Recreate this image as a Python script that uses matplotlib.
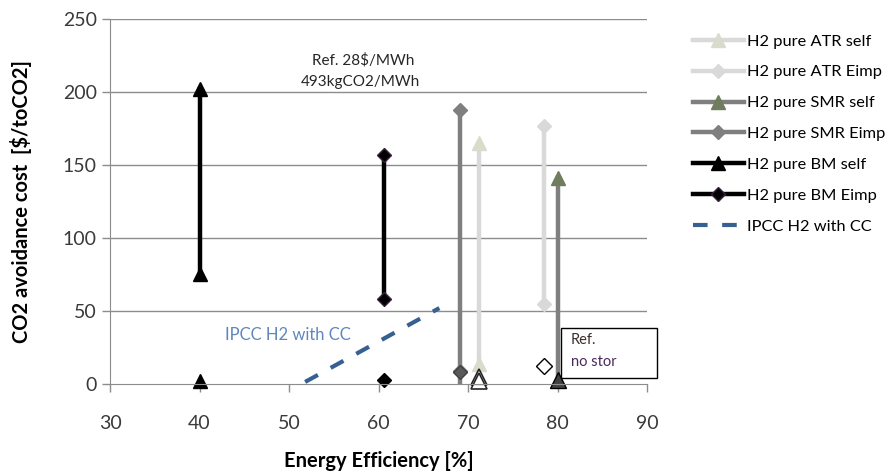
import matplotlib
matplotlib.use("Agg")
import matplotlib.pyplot as plt

plt.rcParams["font.family"] = ["Lato", "DejaVu Sans"]

# main ranges per technology: (efficiency %, [high, low] cost)
atr_self_x = 71.2
atr_self_y = [165, 14]
atr_eimp_x = 78.5
atr_eimp_y = [177, 55]
smr_self_x = 80.0
smr_self_y = [141, 3]
smr_eimp_x = 69.1
smr_eimp_y = [188, 9, 0]
bm_self_x = 40.0
bm_self_y = [202, 75]
bm_eimp_x = 60.6
bm_eimp_y = [157, 58]

# IPCC reference line
ipcc_x = [51.8, 66.8]
ipcc_y = [1.4, 52]

# "Ref. no stor" points
ref_bm_self = (40.0, 2)
ref_bm_eimp = (60.6, 2.5)
ref_smr_eimp = (69.1, 8)
ref_atr_self = (71.2, [5, 2])
ref_atr_eimp = (78.5, 12)
ref_smr_self = (80.0, 3)

x_ticks = [30, 40, 50, 60, 70, 80, 90]
y_ticks = [0, 50, 100, 150, 200, 250]

fig = plt.figure(figsize=(8.88, 4.76), dpi=100)
ax = fig.add_axes([0.1239, 0.1933, 0.6047, 0.7668])

for y in y_ticks[1:]:
    ax.axhline(y, color="#8c8c8c", lw=1.0, zorder=0)

lw = 3.2
ax.plot([atr_self_x] * len(atr_self_y), atr_self_y, color="#d9d9d9", lw=lw,
        marker="^", ms=10, mfc="#d7dccb", mec="#d7dccb", label="H2 pure ATR self")
ax.plot([atr_eimp_x] * len(atr_eimp_y), atr_eimp_y, color="#d9d9d9", lw=lw,
        marker="D", ms=7, mfc="#d9d9d9", mec="#d9d9d9", label="H2 pure ATR Eimp")
ax.plot([smr_self_x] * len(smr_self_y), smr_self_y, color="#7f7f7f", lw=lw,
        marker="^", ms=10, mfc="#6f7d5c", mec="#6f7d5c", markevery=[0],
        label="H2 pure SMR self")
ax.plot([smr_eimp_x] * len(smr_eimp_y), smr_eimp_y, color="#7f7f7f", lw=lw,
        marker="D", ms=7, mfc="#7f7f7f", mec="#7f7f7f", markevery=[0, 1],
        label="H2 pure SMR Eimp")
ax.plot([bm_self_x] * len(bm_self_y), bm_self_y, color="black", lw=lw,
        marker="^", ms=10, mfc="black", mec="black", label="H2 pure BM self")
ax.plot([bm_eimp_x] * len(bm_eimp_y), bm_eimp_y, color="black", lw=lw,
        marker="D", ms=7, mfc="black", mec="#3a1f40", label="H2 pure BM Eimp")
ax.plot(ipcc_x, ipcc_y, color="#376092", lw=3, ls=(0, (3.5, 3.5)),
        label="IPCC H2 with CC")

# reference (no storage) markers
ax.plot(*ref_bm_self, marker="^", ms=10, color="black", ls="none", clip_on=False)
ax.plot(*ref_bm_eimp, marker="D", ms=7, color="black", ls="none", clip_on=False)
ax.plot(*ref_smr_eimp, marker="D", ms=7, mfc="#595959", mec="#404040", ls="none",
        clip_on=False)
for y in ref_atr_self[1]:
    ax.plot(ref_atr_self[0], y, marker="^", ms=11, mfc="white", mec="black",
            mew=1.2, ls="none", alpha=0.85, clip_on=False)
ax.plot(*ref_atr_eimp, marker="D", ms=8, mfc="white", mec="black", mew=1.0, ls="none",
        clip_on=False)
ax.plot(*ref_smr_self, marker="^", ms=11, mfc="#404040", mec="black", ls="none",
        clip_on=False)

ax.text(58.3, 222, "Ref. 28$/MWh", fontsize=11, color="#262626", ha="center", va="center")
ax.text(58.0, 207, "493kgCO2/MWh", fontsize=11, color="#262626", ha="center", va="center")
ax.text(49.9, 33.5, "IPCC H2 with CC", fontsize=12, color="#5f86bf", ha="center", va="center")

ax.text(81.5, 30, "Ref.", fontsize=10.5, color="#3b2f2f", va="center")
ax.text(81.5, 15, "no stor", fontsize=10.5, color="#4a2a5e", va="center")
box = plt.Rectangle((80.4, 4.2), 10.7, 34.3, fill=False, lw=1.0, ec="black",
                    clip_on=False, zorder=5)
ax.add_patch(box)

ax.set_xlim(30, 90)
ax.set_ylim(0, 250)
ax.set_xticks(x_ticks)
ax.set_yticks(y_ticks)
ax.tick_params(axis="both", labelsize=14, colors="#8c8c8c", labelcolor="#3a3a3a",
               direction="out", length=6, width=1.0)
ax.tick_params(axis="x", pad=16)
for side in ["top", "right"]:
    ax.spines[side].set_visible(False)
for side in ["left", "bottom"]:
    ax.spines[side].set_color("#8c8c8c")

ax.set_xlabel("Energy Efficiency [%]", fontsize=14.5, fontweight="bold", labelpad=14)
ax.set_ylabel("CO2 avoidance cost  [$/toCO2]", fontsize=14.5, fontweight="bold",
              labelpad=22)

fig.legend(loc="upper left", bbox_to_anchor=(0.773, 0.942), frameon=False,
           fontsize=11.8, handlelength=3.1, handletextpad=0.2, labelspacing=1.0,
           borderaxespad=0)

fig.savefig("out.png", dpi=100)
